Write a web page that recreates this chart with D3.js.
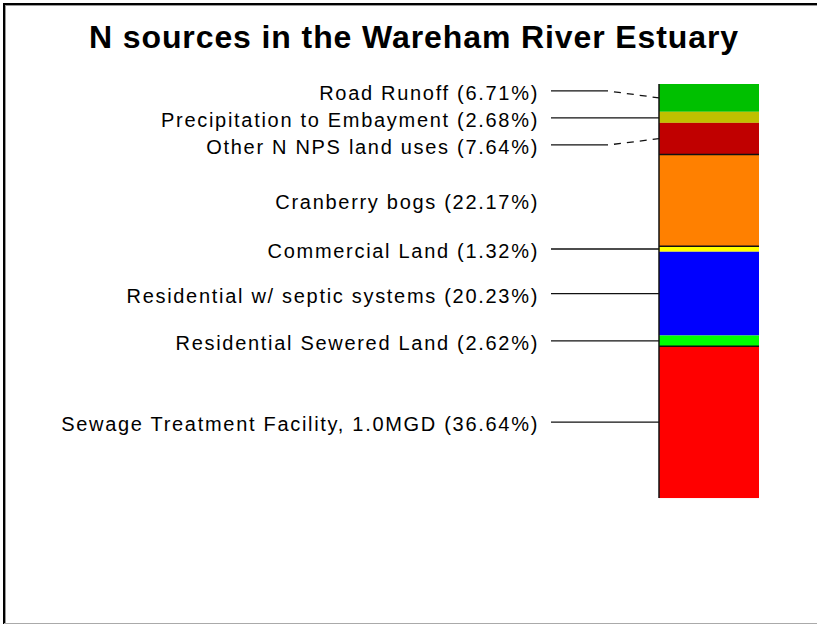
<!DOCTYPE html>
<html>
<head>
<meta charset="utf-8">
<script src="https://cdn.jsdelivr.net/npm/d3@7"></script>
<style>
  body { margin: 0; background: #fff; }
  text { font-family: "Liberation Sans", Arial, sans-serif; }
  .label { font-size: 20px; letter-spacing: 1.7px; fill: #000; }
  #title { font-size: 32px; font-weight: bold; letter-spacing: 0.9px; }
</style>
</head>
<body>
<div id="container"></div>
<script>
// data, top of the stack first
const sources = ["Road Runoff", "Precipitation to Embayment", "Other N NPS land uses",
  "Cranberry bogs", "Commercial Land", "Residential w/ septic systems",
  "Residential Sewered Land", "Sewage Treatment Facility, 1.0MGD"];
const shares = [6.71, 2.68, 7.64, 22.17, 1.32, 20.23, 2.62, 36.64];
const colors = ["#00c000", "#c0c000", "#c00000", "#ff8000", "#ffff00", "#0000ff", "#00ff00", "#ff0000"];
const noLeader = ["Cranberry bogs"];
const ruled = ["Cranberry bogs", "Commercial Land", "Sewage Treatment Facility, 1.0MGD"];

const width = 817;
const height = 625;

const svg = d3.select("#container")
  .append("svg")
  .attr("width", width)
  .attr("height", height);

// frame
svg.append("line").attr("x1", 3).attr("x2", width).attr("y1", 4).attr("y2", 4)
  .attr("stroke", "#000").attr("stroke-width", 2);
svg.append("line").attr("x1", 4).attr("x2", 4).attr("y1", 3).attr("y2", 624)
  .attr("stroke", "#000").attr("stroke-width", 2);
svg.append("line").attr("x1", 5).attr("x2", width).attr("y1", 5.5).attr("y2", 5.5)
  .attr("stroke", "#999").attr("stroke-width", 1);
svg.append("line").attr("x1", 5.5).attr("x2", 5.5).attr("y1", 5).attr("y2", 624)
  .attr("stroke", "#999").attr("stroke-width", 1);
svg.append("line").attr("x1", 4).attr("x2", width).attr("y1", 623.5).attr("y2", 623.5)
  .attr("stroke", "#aaa").attr("stroke-width", 1);

svg.append("text")
  .attr("id", "title")
  .attr("x", 414)
  .attr("y", 48)
  .attr("text-anchor", "middle")
  .text("N sources in the Wareham River Estuary");

// stacked column
const barLeft = 659, barRight = 759;
const scaleY = d3.scaleLinear().domain([0, 100]).range([84, 498]);

let acc = 0;
const stack = shares.map(function (v, i) {
  const d = { name: sources[i], share: v, color: colors[i], y0: acc, y1: acc + v };
  acc += v;
  return d;
});

svg.selectAll("rect.seg")
  .data(stack)
  .enter()
  .append("rect")
  .attr("class", "seg")
  .attr("x", barLeft)
  .attr("width", barRight - barLeft)
  .attr("y", d => scaleY(d.y0))
  .attr("height", d => scaleY(d.y1) - scaleY(d.y0))
  .attr("fill", d => d.color);

svg.selectAll("line.rule")
  .data(stack.filter(d => ruled.includes(d.name)))
  .enter()
  .append("line")
  .attr("class", "rule")
  .attr("x1", barLeft).attr("x2", barRight)
  .attr("y1", d => scaleY(d.y0)).attr("y2", d => scaleY(d.y0))
  .attr("stroke", "#111").attr("stroke-width", 1.5);

svg.append("line")
  .attr("x1", barLeft).attr("x2", barLeft)
  .attr("y1", scaleY(0)).attr("y2", scaleY(100))
  .attr("stroke", "#111").attr("stroke-width", 1.5);

// label positions: start at segment middle, push apart
const minGap = 27;
stack.forEach(d => { d.mid = scaleY((d.y0 + d.y1) / 2); d.ly = d.mid; });
for (let k = 0; k < 200; k++) {
  for (let i = 1; i < stack.length; i++) {
    const gap = stack[i].ly - stack[i - 1].ly;
    if (gap < minGap) {
      const s = (minGap - gap) / 2;
      stack[i - 1].ly -= s;
      stack[i].ly += s;
    }
  }
}

const lineStart = 551, bend = 608, textRight = 539;

const leaders = svg.append("g").attr("id", "leaders");
stack.forEach(function (d) {
  if (noLeader.includes(d.name)) return;
  if (Math.abs(d.ly - d.mid) < 3) {
    leaders.append("line")
      .attr("x1", lineStart).attr("x2", barLeft)
      .attr("y1", d.ly).attr("y2", d.ly)
      .attr("stroke", "#111").attr("stroke-width", 1.3);
  } else {
    leaders.append("line")
      .attr("x1", lineStart).attr("x2", bend)
      .attr("y1", d.ly).attr("y2", d.ly)
      .attr("stroke", "#111").attr("stroke-width", 1.3);
    leaders.append("line")
      .attr("x1", bend).attr("x2", barLeft)
      .attr("y1", d.ly).attr("y2", d.mid)
      .attr("stroke", "#111").attr("stroke-width", 1.3)
      .attr("stroke-dasharray", "7,6")
      .attr("stroke-dashoffset", 7);
  }
});

svg.selectAll("text.label")
  .data(stack)
  .enter()
  .append("text")
  .attr("class", "label")
  .attr("x", textRight)
  .attr("y", d => d.ly + 9)
  .attr("text-anchor", "end")
  .text(d => d.name + " (" + d.share.toFixed(2) + "%)");
</script>
</body>
</html>
